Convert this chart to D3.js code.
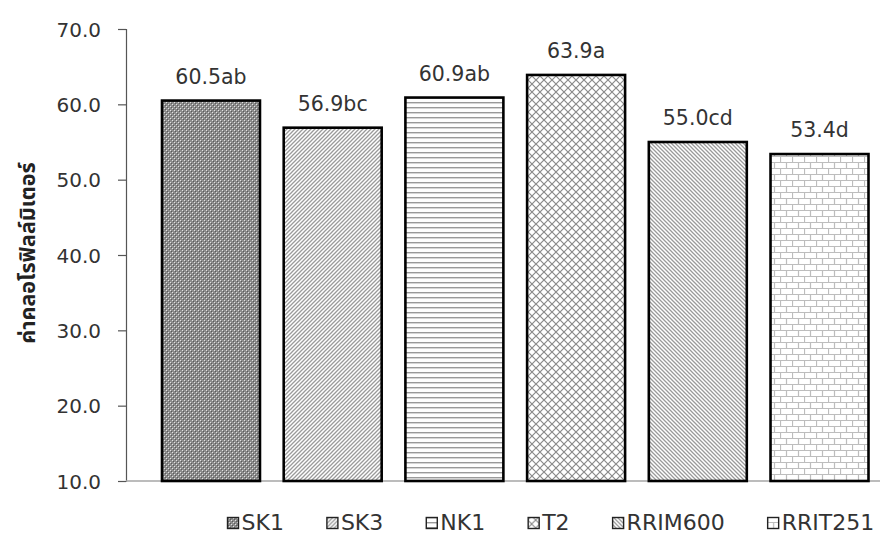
<!DOCTYPE html>
<html>
<head>
<meta charset="utf-8">
<script src="https://cdn.jsdelivr.net/npm/d3@7"></script>
<style>
  html, body { margin: 0; padding: 0; background: #fff; }
  svg { display: block; }
</style>
</head>
<body>
<svg id="chart" width="880" height="535"></svg>
<script>
// Rubber clones and their chlorophyll meter readings
const clones = ["SK1", "SK3", "NK1", "T2", "RRIM600", "RRIT251"];
const values = [60.5, 56.9, 60.9, 63.9, 55.0, 53.4];
const letters = ["ab", "bc", "ab", "a", "cd", "d"];
const yTicks = [10, 20, 30, 40, 50, 60, 70];
const yTitle = "ค่าคลอโรฟิลล์มิเตอร์";

const svg = d3.select("#chart");
const FONT = "'DejaVu Sans', Verdana, sans-serif";
const INK = "#333";

const x = d3.scaleBand()
  .domain(clones)
  .range([162, 868.5])
  .paddingInner(0.195)
  .paddingOuter(0);

const y = d3.scaleLinear().domain([10, 70]).range([481, 29]);

// ---- fill patterns ----
const defs = svg.append("defs");

function pat(id, w, h) {
  return defs.append("pattern")
    .attr("id", id)
    .attr("patternUnits", "userSpaceOnUse")
    .attr("width", w).attr("height", h);
}

// SK1: dense grey dot grid
{
  const p = pat("p-SK1", 4, 4);
  p.append("rect").attr("width", 4).attr("height", 4).attr("fill", "#8c8c8c");
  p.append("rect").attr("x", 0).attr("y", 0).attr("width", 1).attr("height", 1).attr("fill", "#e2e2e2");
  p.append("rect").attr("x", 2).attr("y", 2).attr("width", 1).attr("height", 1).attr("fill", "#e2e2e2");
  p.append("rect").attr("x", 1).attr("y", 1).attr("width", 1).attr("height", 1).attr("fill", "#5a5a5a");
  p.append("rect").attr("x", 3).attr("y", 3).attr("width", 1).attr("height", 1).attr("fill", "#5a5a5a");
}
// SK3: upward diagonal lines
{
  const p = pat("p-SK3", 4, 4);
  p.append("rect").attr("width", 4).attr("height", 4).attr("fill", "#fff");
  p.append("path").attr("d", "M-1,1 L1,-1 M0,4 L4,0 M3,5 L5,3")
    .attr("stroke", "#9a9a9a").attr("stroke-width", 1.3);
}
// NK1: horizontal lines
{
  const p = pat("p-NK1", 5, 5);
  p.append("rect").attr("width", 5).attr("height", 5).attr("fill", "#fff");
  p.append("rect").attr("x", 0).attr("y", 2).attr("width", 5).attr("height", 1.4).attr("fill", "#9a9a9a");
}
// T2: diagonal cross-hatch
{
  const p = pat("p-T2", 8, 8);
  p.append("rect").attr("width", 8).attr("height", 8).attr("fill", "#fff");
  p.append("path").attr("d", "M0,0 L8,8 M0,8 L8,0")
    .attr("stroke", "#8a8a8a").attr("stroke-width", 1.2);
}
// RRIM600: downward diagonal lines
{
  const p = pat("p-RRIM600", 4, 4);
  p.append("rect").attr("width", 4).attr("height", 4).attr("fill", "#fff");
  p.append("path").attr("d", "M-1,3 L1,5 M0,0 L4,4 M3,-1 L5,1")
    .attr("stroke", "#9a9a9a").attr("stroke-width", 1.3);
}
// RRIT251: horizontal brick
{
  const p = pat("p-RRIT251", 12, 12);
  p.append("rect").attr("width", 12).attr("height", 12).attr("fill", "#fff");
  p.append("path")
    .attr("d", "M0,0.5 H12 M0,6.5 H12 M0.5,0 V6 M6.5,6 V12")
    .attr("stroke", "#bdbdbd").attr("stroke-width", 1.2);
}

// ---- y axis ----
const yAxis = d3.axisLeft(y)
  .tickValues(yTicks)
  .tickSize(8)
  .tickPadding(17)
  .tickFormat(d3.format(".1f"));

const gy = svg.append("g")
  .attr("transform", "translate(126,0)")
  .call(yAxis);
gy.select(".domain").attr("stroke", "#555").attr("stroke-width", 1.2);
gy.selectAll(".tick line").attr("stroke", "#555").attr("stroke-width", 1.2);
gy.selectAll(".tick text")
  .attr("font-family", FONT)
  .attr("font-size", 20)
  .attr("fill", INK)
  .attr("dy", "0.36em");

// ---- x baseline ----
svg.append("line")
  .attr("x1", 126).attr("x2", 880)
  .attr("y1", y(10)).attr("y2", y(10))
  .attr("stroke", "#a6a6a6").attr("stroke-width", 1.4);

// ---- bars ----
svg.append("g").selectAll("rect")
  .data(clones)
  .join("rect")
  .attr("x", d => x(d))
  .attr("y", (d, i) => y(values[i]))
  .attr("width", x.bandwidth())
  .attr("height", (d, i) => y(10) - y(values[i]))
  .attr("fill", d => `url(#p-${d})`)
  .attr("stroke", "#000")
  .attr("stroke-width", 2.6);

// ---- value labels ----
svg.append("g").selectAll("text")
  .data(clones)
  .join("text")
  .attr("x", d => x(d) + x.bandwidth() / 2)
  .attr("y", (d, i) => y(values[i]) - 17)
  .attr("text-anchor", "middle")
  .attr("font-family", FONT)
  .attr("font-size", 20.5)
  .attr("fill", INK)
  .text((d, i) => values[i].toFixed(1) + letters[i]);

// ---- y title ----
svg.append("text")
  .attr("transform", "translate(35,253) rotate(-90)")
  .attr("text-anchor", "middle")
  .attr("font-family", "'Noto Sans Thai', Tahoma, 'DejaVu Sans', sans-serif")
  .attr("font-weight", "bold")
  .attr("font-size", 21.5)
  .attr("fill", "#222")
  .text(yTitle);

// ---- legend ----
const legend = svg.append("g").attr("transform", "translate(227,0)");
let lx = 0;
clones.forEach(c => {
  const g = legend.append("g").attr("transform", `translate(${lx},0)`);
  g.append("rect")
    .attr("x", 0.5).attr("y", 517.5)
    .attr("width", 11).attr("height", 11)
    .attr("fill", `url(#p-${c})`)
    .attr("stroke", "#222").attr("stroke-width", 1.4);
  const t = g.append("text")
    .attr("x", 14.5).attr("y", 530)
    .attr("font-family", FONT)
    .attr("font-size", 22)
    .attr("fill", INK)
    .text(c);
  lx += 14.5 + t.node().getComputedTextLength() + 42.5;
});
</script>
</body>
</html>
